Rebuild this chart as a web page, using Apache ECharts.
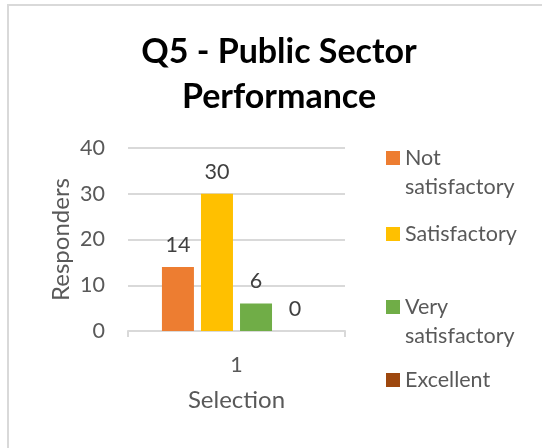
<!DOCTYPE html>
<html>
<head>
<meta charset="utf-8">
<script src="https://cdn.jsdelivr.net/npm/echarts@6/dist/echarts.min.js"></script>
<style>html,body{margin:0;padding:0;background:#fff}#c{width:542px;height:448px}</style>
</head>
<body>
<div id="c"></div>
<script>
const titleText = 'Q5 - Public Sector\nPerformance';
const categories = ['1'];
const seriesNames = ['Not satisfactory', 'Satisfactory', 'Very satisfactory', 'Excellent'];
const seriesValues = [[14], [30], [6], [0]];
const seriesColors = ['#ED7D31', '#FFC000', '#70AD47', '#9E480E'];
const yTicks = [0, 10, 20, 30, 40];
const xAxisName = 'Selection';
const yAxisName = 'Responders';

const FONT = 'Lato';
const GREY = '#595959';
const FS = 21.5;
const FS_NAME = 24;
// two-line legend entries get a blank leading line so the first text line sits beside the swatch
const legendLabels = { 'Not satisfactory': ' \nNot\nsatisfactory', 'Satisfactory': 'Satisfactory', 'Very satisfactory': ' \nVery\nsatisfactory', 'Excellent': 'Excellent' };
const legendTops = [114.5, 219.5, 263.5, 365.5];

const chart = echarts.init(document.getElementById('c'), null, { renderer: 'canvas' });
const option = {
  animation: false,
  backgroundColor: '#fff',
  graphic: [{ type: 'rect', shape: { x: 8, y: 5, width: 700, height: 700 }, style: { fill: 'none', stroke: '#D9D9D9', lineWidth: 2 }, silent: true }],
  title: {
    text: titleText, left: 279, textAlign: 'center', top: 30, padding: 0,
    textStyle: { fontFamily: FONT, fontWeight: 'bold', fontSize: 34, lineHeight: 45, color: '#000' }
  },
  legend: seriesNames.map((n, i) => ({
    data: [n], orient: 'vertical', left: 386, top: legendTops[i], padding: 0,
    itemWidth: 14, itemHeight: 14, itemGap: 6, icon: 'rect',
    formatter: nm => legendLabels[nm],
    textStyle: { fontFamily: FONT, fontSize: FS, color: GREY, lineHeight: 29 }
  })),
  grid: { left: 128, right: 197, top: 148, bottom: 117, containLabel: false },
  xAxis: {
    type: 'category', data: categories,
    name: xAxisName, nameLocation: 'middle', nameGap: 57,
    nameTextStyle: { fontFamily: FONT, fontSize: FS_NAME, color: GREY },
    axisLine: { lineStyle: { color: '#D9D9D9', width: 2 } },
    axisTick: { show: true, length: 6, lineStyle: { color: '#D9D9D9', width: 2 } },
    axisLabel: { fontFamily: FONT, fontSize: FS, color: GREY, margin: 23 }
  },
  yAxis: {
    type: 'value', min: yTicks[0], max: yTicks[yTicks.length - 1], interval: 10,
    name: yAxisName, nameLocation: 'middle', nameGap: 55,
    nameTextStyle: { fontFamily: FONT, fontSize: FS_NAME, color: GREY },
    axisLine: { show: false }, axisTick: { show: false },
    splitLine: { lineStyle: { color: '#D9D9D9', width: 2 } },
    axisLabel: { fontFamily: FONT, fontSize: FS, color: GREY, margin: 23 }
  },
  series: seriesNames.map((n, i) => ({
    type: 'bar', name: n, data: seriesValues[i], barWidth: 32, barGap: '22%',
    itemStyle: { color: seriesColors[i] },
    label: { show: true, position: 'top', distance: 11, fontFamily: FONT, fontSize: FS, color: '#404040' }
  }))
};
chart.setOption(option);
</script>
</body>
</html>
